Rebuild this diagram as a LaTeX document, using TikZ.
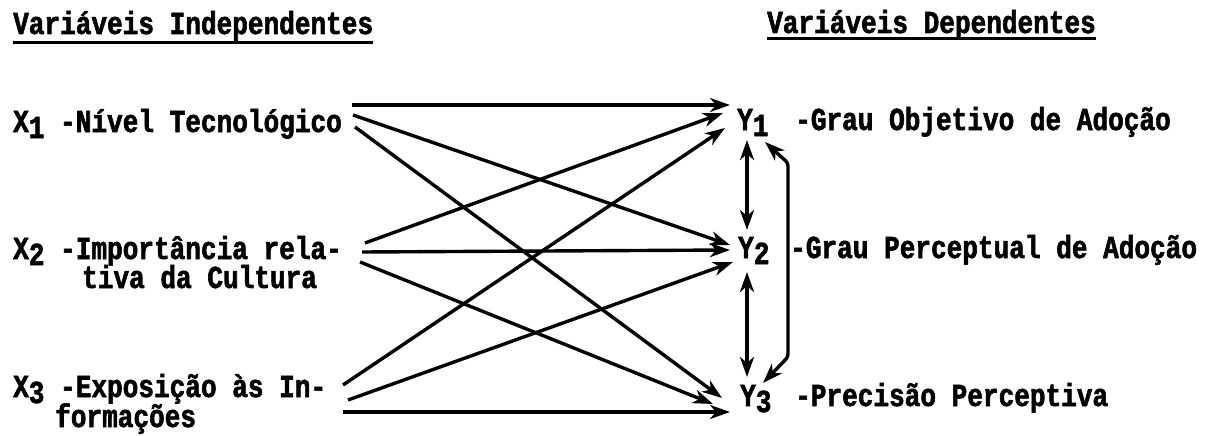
\documentclass[tikz,border=0pt]{standalone}
\usepackage{fontspec}
\newfontfamily\tw{Liberation Mono}[FakeStretch=0.815, UprightFont={* Bold}, FakeBold=1.8]
\usetikzlibrary{arrows.meta}
\newcommand\subd[1]{\raisebox{-6pt}{#1}}
\begin{document}
\begin{tikzpicture}[x=1pt,y=-1pt,
  lbl/.style={inner sep=0pt, anchor=base west, text height=19pt, text depth=5pt,
    font=\tw\fontsize{32}{32}\selectfont},
  arr/.style={line width=3.4pt, -{Stealth[length=20pt,width=14pt,inset=6pt]}},
  darr/.style={line width=3.4pt, {Stealth[length=20pt,width=14pt,inset=6pt]}-{Stealth[length=20pt,width=14pt,inset=6pt]}},
  uline/.style={line width=3pt}]
\useasboundingbox (0,0) rectangle (1224,436);

% headings
\node[lbl] (hi) at (13,34) {Variáveis Independentes};
\node[lbl] (hd) at (767,33) {Variáveis Dependentes};
\draw[uline] ([yshift=-9pt]hi.base west) -- ([yshift=-9pt]hi.base east);
\draw[uline] ([yshift=-6pt]hd.base west) -- ([yshift=-6pt]hd.base east);

% independent variables
\node[lbl] (x1) at (13,132) {X\subd{1} -Nível Tecnológico};
\node[lbl] (x2) at (13,259) {X\subd{2} -Importância rela-};
\node[lbl] (x2l) at (82,288) {tiva da Cultura};
\node[lbl] (x3) at (13,397) {X\subd{3} -Exposição às In-};
\node[lbl] (x3l) at (55,427) {formações};

% dependent variables
\node[lbl] (y1) at (737,130) {Y\subd{1}};
\node[lbl] (y2) at (738,258) {Y\subd{2}};
\node[lbl] (y3) at (740,406) {Y\subd{3}};
\node[lbl] (t1) at (795,130) {-Grau Objetivo de Adoção};
\node[lbl] (t2) at (790,258) {-Grau Perceptual de Adoção};
\node[lbl] (t3) at (795,406) {-Precisão Perceptiva};

% arrow end points
\coordinate (x1a) at (352,105);
\coordinate (x1b) at (353,115);
\coordinate (x1c) at (355,127);
\coordinate (x2a) at (365,243);
\coordinate (x2b) at (362,252);
\coordinate (x2c) at (360,262);
\coordinate (x3a) at (343,385);
\coordinate (x3b) at (348,400);
\coordinate (x3c) at (343,412);
\coordinate (y1a) at (730,105);
\coordinate (y1b) at (723,113);
\coordinate (y1c) at (725,128);
\coordinate (y2a) at (730,245);
\coordinate (y2b) at (730,250);
\coordinate (y2c) at (733,262);
\coordinate (y3a) at (722,398);
\coordinate (y3b) at (713,404);
\coordinate (y3c) at (730,412);

\draw[arr] (x1a) -- (y1a);
\draw[arr] (x1b) -- (y2a);
\draw[arr] (x1c) -- (y3a);
\draw[arr] (x2a) -- (y1b);
\draw[arr] (x2b) -- (y2b);
\draw[arr] (x2c) -- (y3b);
\draw[arr] (x3a) -- (y1c);
\draw[arr] (x3b) -- (y2c);
\draw[arr] (x3c) -- (y3c);

% relations among dependent variables
\coordinate (v1t) at (747,140);
\coordinate (v1b) at (747,230);
\coordinate (v2t) at (747,272);
\coordinate (v2b) at (747,377);
\draw[darr] (v1t) -- (v1b);
\draw[darr] (v2t) -- (v2b);
\coordinate (r1) at (765,142);
\coordinate (r3) at (763,383);
\draw[darr, rounded corners=3pt] (r1) -- (788,163) -- (788,357) -- (r3);
\end{tikzpicture}
\end{document}
